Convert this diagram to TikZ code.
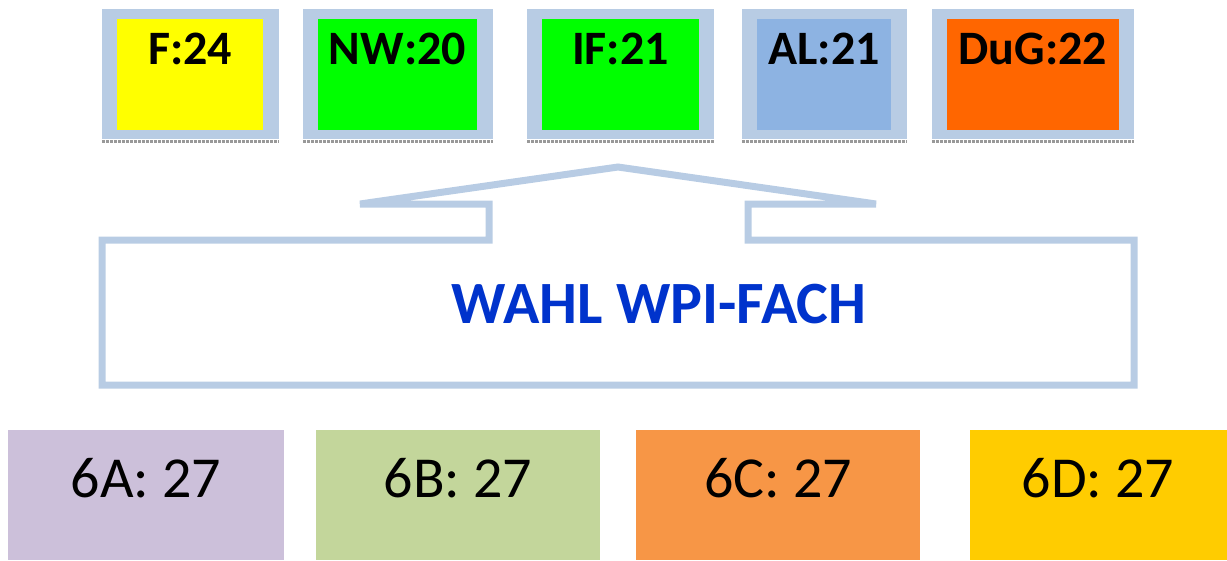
\documentclass[tikz,border=0pt]{standalone}
\usepackage{fontspec}
\setmainfont{Carlito}
\definecolor{frameblue}{HTML}{B8CCE4}
\definecolor{cF}{HTML}{FFFF00}
\definecolor{cNW}{HTML}{00FF00}
\definecolor{cAL}{HTML}{8DB3E2}
\definecolor{cDuG}{HTML}{FF6600}
\definecolor{c6A}{HTML}{CCC0DA}
\definecolor{c6B}{HTML}{C3D69B}
\definecolor{c6C}{HTML}{F79646}
\definecolor{c6D}{HTML}{FFCC00}
\definecolor{wahlblue}{HTML}{0033CC}
\begin{document}
\begin{tikzpicture}[x=1pt,y=-1pt,
  toplabel/.style={anchor=base,inner sep=0pt,font=\fontsize{48}{48}\selectfont\bfseries},
  botlabel/.style={anchor=base,inner sep=0pt,font=\fontsize{58}{58}\selectfont},
  shadowline/.style={gray!80,line width=3pt,densely dotted}]
\useasboundingbox (0,0) rectangle (1227,560);
% top boxes: outer frame, inner colour
\newcommand{\topbox}[8]{%
  \fill[frameblue] (#1,9) rectangle (#2,139);
  \draw[shadowline] (#1,141) -- (#2,141);
  \fill[#5] (#3,19) rectangle (#4,130);
  \node[toplabel] (#6) at ({(#3+#4)/2},64) {#7};
}
\topbox{102}{279}{117}{263}{cF}{tF}{F:24}{}
\topbox{303}{493}{318}{477}{cNW}{tNW}{NW:20}{}
\topbox{527}{714}{542}{699}{cNW}{tIF}{IF:21}{}
\topbox{742}{907}{757}{891}{cAL}{tAL}{AL:21}{}
\topbox{932}{1134}{947}{1119}{cDuG}{tDuG}{DuG:22}{}
% callout
\draw[frameblue,line width=7pt]
  (360,204) -- (489,204) -- (489,240) -- (102,240) -- (102,385)
  -- (1134,385) -- (1134,240) -- (748,240) -- (748,204) -- (876,204)
  -- (618,167) -- cycle;
\node[anchor=base,inner sep=0pt,text=wahlblue,font=\fontsize{60}{60}\selectfont\bfseries] (wahl) at (659,323) {WAHL WPI-FACH};
% bottom boxes
\fill[c6A] (8,430) rectangle (284,560);
\fill[c6B] (316,430) rectangle (600,560);
\fill[c6C] (636,430) rectangle (920,560);
\fill[c6D] (970,430) rectangle (1227,560);
\node[botlabel] (b6A) at (146,497) {6A: 27};
\node[botlabel] (b6B) at (458,497) {6B: 27};
\node[botlabel] (b6C) at (778,497) {6C: 27};
\node[botlabel] (b6D) at (1098,497) {6D: 27};
\end{tikzpicture}
\end{document}
